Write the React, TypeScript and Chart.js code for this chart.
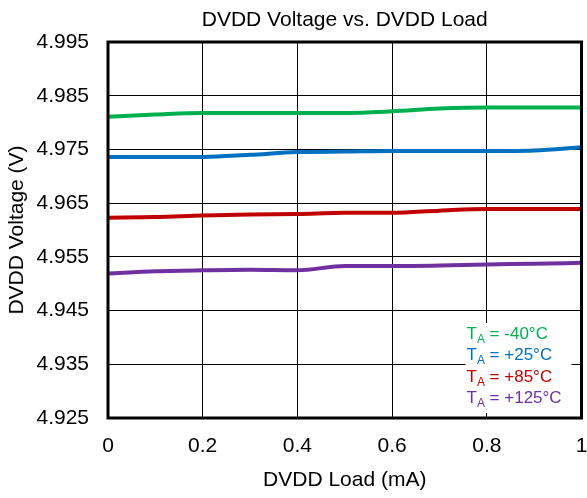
import React, { useEffect, useRef } from "react";
import { Chart, registerables } from "chart.js";

Chart.register(...registerables);

// ---- Data ----
const loads = [0, 0.1, 0.2, 0.3, 0.4, 0.5, 0.6, 0.7, 0.8, 0.9, 1.0];
const vM40 = [4.9811, 4.9815, 4.9818, 4.9818, 4.9818, 4.9818, 4.9821, 4.9826, 4.9828, 4.9828, 4.9828];
const vP25 = [4.9736, 4.9736, 4.9736, 4.974, 4.9745, 4.9746, 4.9747, 4.9747, 4.9747, 4.9748, 4.9754];
const vP85 = [4.9623, 4.9624, 4.9627, 4.9629, 4.963, 4.9632, 4.9632, 4.9636, 4.9639, 4.9639, 4.9639];
const vP125 = [4.9519, 4.9523, 4.9525, 4.9526, 4.9525, 4.9533, 4.9533, 4.9534, 4.9536, 4.9537, 4.9539];

const xTicks = [0, 0.2, 0.4, 0.6, 0.8, 1];
const yTicks = [4.925, 4.935, 4.945, 4.955, 4.965, 4.975, 4.985, 4.995];

const seriesLabels = ["-40°C", "+25°C", "+85°C", "+125°C"];
const seriesColors = ["#00B050", "#0070C0", "#C00000", "#7030A0"];

const chartTitle = "DVDD Voltage vs. DVDD Load";
const xTitle = "DVDD Load (mA)";
const yTitle = "DVDD Voltage (V)";

const FAMILY = "'Liberation Sans', Arial, sans-serif";

const decorPlugin = {
  id: "decor",
  beforeDatasetsDraw(chart: any) {
    const { ctx, chartArea } = chart;
    ctx.save();
    ctx.fillStyle = "#ffffff";
    const bx = chartArea.right - 116;
    const by = chartArea.bottom - 95;
    ctx.fillRect(bx, by, 106, 90);
    ctx.restore();
  },
  afterDraw(chart: any) {
    const { ctx, chartArea } = chart;
    ctx.save();
    // frame
    ctx.strokeStyle = "#000";
    ctx.lineWidth = 3;
    ctx.strokeRect(chartArea.left, chartArea.top, chartArea.right - chartArea.left, chartArea.bottom - chartArea.top);
    // title
    ctx.fillStyle = "#000";
    ctx.font = `21px ${FAMILY}`;
    ctx.textAlign = "center";
    ctx.textBaseline = "middle";
    ctx.fillText(chartTitle, (chartArea.left + chartArea.right) / 2, 20);
    // legend
    ctx.textAlign = "left";
    ctx.textBaseline = "alphabetic";
    const x0 = chartArea.right - 115;
    seriesLabels.forEach((lab, i) => {
      const y = chartArea.bottom - 79 + i * 21.3;
      ctx.fillStyle = seriesColors[i];
      ctx.font = `17px ${FAMILY}`;
      ctx.fillText("T", x0, y);
      let x = x0 + ctx.measureText("T").width;
      ctx.font = `12px ${FAMILY}`;
      ctx.fillText("A", x, y + 4);
      x += ctx.measureText("A").width;
      ctx.font = `17px ${FAMILY}`;
      ctx.fillText(" = " + lab, x, y);
    });
    ctx.restore();
  },
};

export default function App() {
  const ref = useRef<HTMLCanvasElement>(null);

  useEffect(() => {
    if (!ref.current) return;
    const series = [vM40, vP25, vP85, vP125];
    const chart = new Chart(ref.current, {
      type: "line",
      data: {
        datasets: series.map((s, k) => ({
          label: seriesLabels[k],
          data: loads.map((x, i) => ({ x, y: s[i] })),
          borderColor: seriesColors[k],
          backgroundColor: seriesColors[k],
          borderWidth: 4,
          pointRadius: 0,
          cubicInterpolationMode: "monotone",
          fill: false,
        })),
      },
      options: {
        responsive: false,
        animation: false,
        devicePixelRatio: 1,
        layout: { padding: { top: 42, right: 5.5, left: 0, bottom: 0 } },
        plugins: {
          legend: { display: false },
          title: { display: false },
          tooltip: { enabled: false },
        },
        scales: {
          x: {
            type: "linear",
            min: 0,
            max: 1,
            afterBuildTicks: (s: any) => {
              s.ticks = xTicks.map((v) => ({ value: v }));
            },
            afterFit: (s: any) => {
              s.height = 80;
              s.paddingLeft = 0;
              s.paddingRight = 0;
            },
            grid: { color: "#000", lineWidth: 1, drawTicks: false },
            border: { display: false },
            ticks: {
              color: "#000",
              font: { size: 21, family: FAMILY },
              padding: 16,
              maxRotation: 0,
              autoSkip: false,
              callback: (v: any) => String(v),
            },
            title: {
              display: true,
              text: xTitle,
              color: "#000",
              font: { size: 21, family: FAMILY },
              padding: { top: 0, bottom: 5 },
            },
          },
          y: {
            type: "linear",
            min: 4.925,
            max: 4.995,
            afterBuildTicks: (s: any) => {
              s.ticks = yTicks.map((v) => ({ value: v }));
            },
            afterFit: (s: any) => {
              s.width = 108;
              s.paddingTop = 0;
              s.paddingBottom = 0;
            },
            grid: { color: "#000", lineWidth: 1, drawTicks: false },
            border: { display: false },
            ticks: {
              color: "#000",
              font: { size: 21, family: FAMILY },
              padding: 19,
              autoSkip: false,
              callback: (v: any) => Number(v).toFixed(3),
            },
            title: {
              display: true,
              text: yTitle,
              color: "#000",
              font: { size: 21, family: FAMILY },
              padding: { top: 5, bottom: 0 },
            },
          },
        },
      },
      plugins: [decorPlugin],
    } as any);
    return () => chart.destroy();
  }, []);

  return (
    <div style={{ position: "absolute", left: 0, top: 0, width: 587, height: 498, background: "#fff" }}>
      <canvas ref={ref} width={587} height={498} style={{ width: 587, height: 498, display: "block" }} />
    </div>
  );
}
